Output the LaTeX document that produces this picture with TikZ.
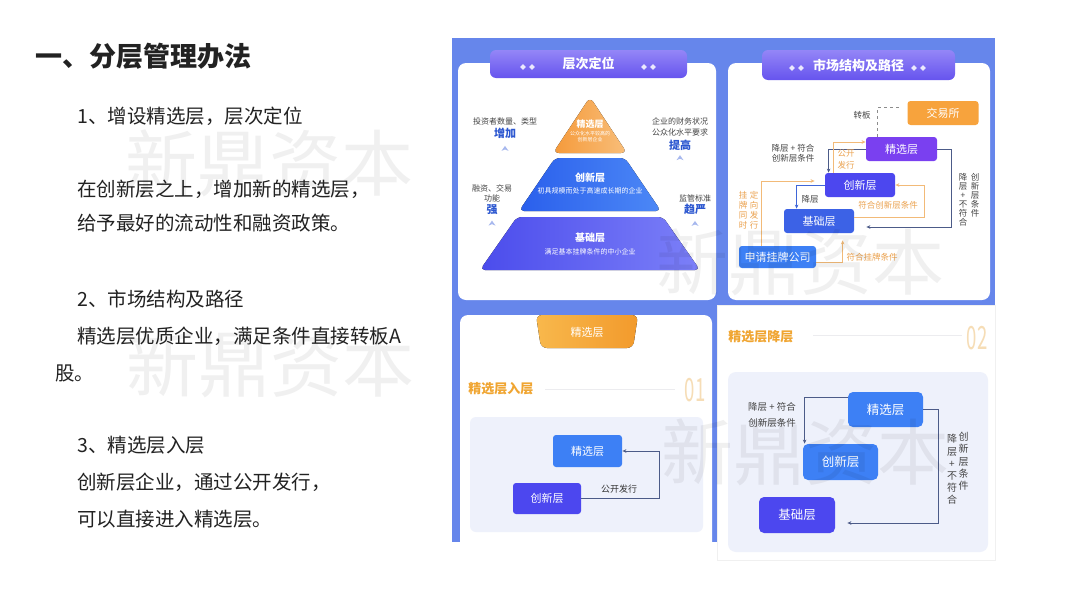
\documentclass[tikz,border=0pt]{standalone}
\usepackage{fontspec}
\usepackage{graphicx}
\setmainfont{Noto Sans CJK SC}
\usetikzlibrary{arrows.meta, positioning, calc}

\definecolor{bodyink}{HTML}{222222}
\definecolor{frameblue}{HTML}{6686EB}
\definecolor{tabtop}{HTML}{9486F7}
\definecolor{tabbot}{HTML}{6654EE}
\definecolor{boxblue}{HTML}{3D80F5}
\definecolor{boxindigo}{HTML}{4C47EF}
\definecolor{boxpurple}{HTML}{7A40F0}
\definecolor{boxbase}{HTML}{3C62E6}
\definecolor{exorange}{HTML}{F7A33D}
\definecolor{linkgray}{HTML}{4C5B88}
\definecolor{linkblue}{HTML}{3F66D8}
\definecolor{linkorange}{HTML}{F2BA78}
\definecolor{noteorange}{HTML}{EBA24F}
\definecolor{notegray}{HTML}{444444}
\definecolor{accentblue}{HTML}{2C57D0}
\definecolor{caretblue}{HTML}{A7B8EE}
\definecolor{headorange}{HTML}{F0A531}
\definecolor{numorange}{HTML}{F6DDB6}
\definecolor{panelfog}{HTML}{EEF1FB}
\definecolor{ruleline}{HTML}{ECECEF}
\definecolor{tabinA}{HTML}{F8B84C}
\definecolor{tabinB}{HTML}{F29A2C}
\definecolor{tierorA}{HTML}{F59A3A}
\definecolor{tierorB}{HTML}{F8BE7A}
\definecolor{tierblA}{HTML}{2A5FEC}
\definecolor{tierblB}{HTML}{4C88F6}
\definecolor{tierinA}{HTML}{4B4CEC}
\definecolor{tierinB}{HTML}{7C80F8}

\newcommand{\pxsize}[2]{\fontsize{#1}{#2}\selectfont}

\begin{document}
\begin{tikzpicture}[
    x=1pt, y=-1pt,
    >={Stealth[length=4pt, width=3.6pt]},
    line width=0.8pt,
    body/.style={anchor=west, inner sep=0pt, text=bodyink, font=\pxsize{19.5}{19.5}},
    tierbox/.style={rounded corners=3pt, text=white, inner sep=0pt, font=\pxsize{11}{11}},
    bigbox/.style={tierbox, rounded corners=5pt, font=\pxsize{12.5}{12.5}},
    note/.style={inner sep=0pt, text=notegray, align=center, font=\pxsize{8.5}{10}},
    orangenote/.style={note, text=noteorange},
    accent/.style={inner sep=0pt, text=accentblue, font=\bfseries\pxsize{11}{11}},
    tiername/.style={inner sep=0pt, text=white, font=\bfseries\pxsize{10}{10}},
    tierdesc/.style={inner sep=0pt, text=white, align=center, font=\pxsize{7}{8}},
    tabtitle/.style={inner sep=0pt, text=white, rounded corners=6pt, top color=tabtop, bottom color=tabbot, font=\bfseries\pxsize{13}{13}},
    sectionhead/.style={anchor=west, inner sep=0pt, text=headorange, font=\bfseries\pxsize{13}{13}},
    bignum/.style={inner sep=0pt, text=numorange, font=\pxsize{32}{32}},
    graylink/.style={->, draw=linkgray},
    bluelink/.style={->, draw=linkblue},
    orangelink/.style={->, draw=linkorange},
    watermark/.style={inner sep=0pt, text=black, text opacity=0.06, font=\pxsize{72}{72}},
    gem/.pic={\fill[white, fill opacity=0.85] (0,-2.8) -- (2.8,0) -- (0,2.8) -- (-2.8,0) -- cycle;},
    caret/.pic={\fill[caretblue] (-3.5,2.5) -- (0,-2.5) -- (3.5,2.5) -- (0,1) -- cycle;}
  ]
  \fill[white] (0,0) rectangle (1080,608);
  \useasboundingbox (0,0) rectangle (1080,608);

  % --- texto de la izquierda ---
  \node[anchor=west, inner sep=0pt, text=bodyink, font=\bfseries\pxsize{27}{27}] (title) at (35,56) {一、分层管理办法};
  \node[body] (h1)  at (77,116) {1、增设精选层，层次定位};
  \node[body] (p1a) at (77,189) {在创新层之上，增加新的精选层，};
  \node[body] (p1b) at (77,223) {给予最好的流动性和融资政策。};
  \node[body] (h2)  at (77,299) {2、市场结构及路径};
  \node[body] (p2a) at (77,336) {精选层优质企业，满足条件直接转板A};
  \node[body] (p2b) at (55,373) {股。};
  \node[body] (h3)  at (77,445) {3、精选层入层};
  \node[body] (p3a) at (77,482) {创新层企业，通过公开发行，};
  \node[body] (p3b) at (77,519) {可以直接进入精选层。};

  % --- marcos de los paneles ---
  \fill[frameblue] (452,38) rectangle (722,542);
  \fill[frameblue] (722,38) rectangle (995,305);
  \fill[white, rounded corners=8pt] (458,63) rectangle (716,300);
  \fill[white, rounded corners=8pt] (728,63) rectangle (990,300);
  \fill[white, rounded corners=8pt] (460,315) rectangle (712,556);
  \fill[white] (445,542) rectangle (716,560);
  \draw[draw=black!6, fill=white, line width=0.6pt] (717,305) rectangle (995,560);

  % --- panel 1: piramide ---
  \node[tabtitle, minimum width=197pt, minimum height=28pt] (tabL) at (588.5,64) {层次定位};
  \foreach \gx in {523,532,644,653} \pic at (\gx,67) {gem};
  \fill[left color=tierorA, right color=tierorB, rounded corners=6pt] (590,97) -- (627,153) -- (553,153) -- cycle;
  \fill[left color=tierblA, right color=tierblB, rounded corners=5pt] (555,158) -- (625,158) -- (661,211) -- (519,211) -- cycle;
  \fill[left color=tierinA, right color=tierinB, rounded corners=5pt] (517,217) -- (663,217) -- (700,270) -- (480,270) -- cycle;
  \node[tiername, font=\bfseries\pxsize{9}{9}] (topname) at (590,124) {精选层};
  \node[tierdesc, font=\pxsize{5}{6}, below=2pt of topname] (topdesc) {公众化水平较高的\\创新层企业};
  \node[tiername] (midname) at (590,178) {创新层};
  \node[tierdesc, below=4pt of midname] (middesc) {初具规模而处于高速成长期的企业};
  \node[tiername] (basename) at (590,238) {基础层};
  \node[tierdesc, below=5pt of basename] (basedesc) {满足基本挂牌条件的中小企业};

  \node[note, font=\pxsize{8}{10}] (invest) at (505,121) {投资者数量、类型};
  \node[accent, below=3pt of invest] (more) {增加};
  \pic at ($(more.south)+(0,9)$) {caret};
  \node[note, font=\pxsize{8}{10}] (finance) at (680,121) {企业的财务状况};
  \node[note, font=\pxsize{8}{10}, below=3pt of finance] (public) {公众化水平要求};
  \node[accent, below=3pt of public] (raise) {提高};
  \pic at ($(raise.south)+(0,7)$) {caret};
  \node[note, font=\pxsize{8}{10}] (trade) at (492,188) {融资、交易};
  \node[note, font=\pxsize{8}{10}, below=2pt of trade] (func) {功能};
  \node[accent, below=2pt of func] (strong) {强};
  \pic at ($(strong.south)+(0,8)$) {caret};
  \node[note, font=\pxsize{8}{10}] (supervise) at (695,198) {监管标准};
  \node[accent, below=2pt of supervise] (strict) {趋严};
  \pic at ($(strict.south)+(0,8)$) {caret};

  % --- panel 2: estructura del mercado ---
  \node[tabtitle, minimum width=193pt, minimum height=30pt] (tabR) at (858.5,65) {市场结构及路径};
  \foreach \gx in {792,801,914,923} \pic at (\gx,68) {gem};
  \node[tierbox, fill=exorange, minimum width=71pt, minimum height=24pt] (exch) at (943,113) {交易所};
  \node[tierbox, fill=boxpurple, minimum width=71pt, minimum height=24pt] (selM) at (901.5,149) {精选层};
  \node[tierbox, fill=boxindigo, minimum width=70pt, minimum height=24pt] (innM) at (860,185) {创新层};
  \node[tierbox, fill=boxbase, minimum width=70pt, minimum height=24pt] (baseM) at (819,221) {基础层};
  \node[tierbox, fill=boxblue, minimum width=77pt, minimum height=22pt] (apply) at (777.5,257) {申请挂牌公司};

  \draw[dashed, draw=black!45, line width=0.7pt] ($(selM.north west)+(12,0)$) |- ($(exch.west)+(-8,-6)$);
  \draw[graylink] (selM.west) -| ($(innM.north west)+(4,0)$);
  \draw[orangelink] ($(innM.north west)+(9,0)$) |- ($(selM.west)+(0,-7)$);
  \draw[bluelink] (innM.west) -| ($(baseM.north west)+(13,0)$);
  \draw[orangelink] ($(baseM.east)+(0,-4)$) -| ($(innM.east)+(29,0)$) -- (innM.east);
  \draw[graylink] (selM.east) -| ($(baseM.east)+(97,6)$) -- ($(baseM.east)+(12,6)$);
  \draw[orangelink] ($(apply.north west)+(23,0)$) |- ($(innM.west)+(-10,-4)$);
  \draw[orangelink] ($(apply.east)+(0,5)$) -| ($(baseM.south west)+(59,7)$);

  \node[note] (turn) at (862,115) {转板};
  \node[note] (downM) at (793,153) {降层 + 符合\\创新层条件};
  \node[orangenote, align=left, font=\pxsize{8.5}{12}] (pubM) at (846,159) {公开\\发行};
  \node[note] (downB) at (810,199) {降层};
  \node[orangenote] (meetM) at (888,205) {符合创新层条件};
  \node[note, font=\pxsize{8.5}{9}, anchor=north] (failL) at (963,173) {降\\层\\+\\不\\符\\合};
  \node[note, font=\pxsize{8.5}{9}, anchor=north] (failR) at (975,173) {创\\新\\层\\条\\件};
  \node[orangenote, font=\pxsize{8.5}{10}, anchor=north] (listL) at (743,191) {挂\\牌\\同\\时};
  \node[orangenote, font=\pxsize{8.5}{10}, anchor=north] (listR) at (754,191) {定\\向\\发\\行};
  \node[orangenote] (listok) at (872,257) {符合挂牌条件};

  % --- panel 3: entrada al nivel selecto ---
  \fill[left color=tabinA, right color=tabinB, rounded corners=6pt] (536,315) -- (638,315) -- (633,348) -- (541,348) -- cycle;
  \node[inner sep=0pt, text=white, font=\pxsize{11}{11}] (tabIn) at (587,332) {精选层};
  \node[sectionhead] (headIn) at (468,389) {精选层入层};
  \draw[ruleline, line width=1pt] (545,389) -- (675,389);
  \node[bignum] (numIn) at (695,390) {\scalebox{0.58}[1]{01}};
  \fill[panelfog, rounded corners=6pt] (470,417) rectangle (703,532);
  \node[tierbox, fill=boxblue, minimum width=69pt, minimum height=32pt] (selIn) at (587.5,451) {精选层};
  \node[tierbox, fill=boxindigo, minimum width=68pt, minimum height=31pt] (innIn) at (547,498.5) {创新层};
  \draw[graylink] (innIn.east) -| ($(selIn.east)+(37,0)$) -- (selIn.east);
  \node[note, text=black!80, font=\pxsize{9}{9}] (pubIn) at (619,489) {公开发行};

  % --- panel 4: descenso del nivel selecto ---
  \node[sectionhead] (headDn) at (728,337) {精选层降层};
  \draw[ruleline, line width=1pt] (813,335) -- (962,335);
  \node[bignum] (numDn) at (977,338) {\scalebox{0.58}[1]{02}};
  \fill[panelfog, rounded corners=8pt] (728,372) rectangle (988,552);
  \node[bigbox, fill=boxblue, minimum width=75pt, minimum height=35pt] (selDn) at (885.5,409.5) {精选层};
  \node[bigbox, fill=boxblue, minimum width=75pt, minimum height=36pt] (innDn) at (840.5,462) {创新层};
  \node[bigbox, fill=boxindigo, minimum width=76pt, minimum height=36pt] (baseDn) at (797,515) {基础层};
  \draw[graylink] ($(selDn.west)+(0,-12)$) -| ($(innDn.north west)+(2,0)$);
  \draw[graylink] (selDn.east) -| ($(baseDn.east)+(103,8)$) -- ($(baseDn.east)+(12,8)$);
  \node[note, font=\pxsize{9.5}{16}] (downDn) at (772,415) {降层 + 符合\\创新层条件};
  \node[note, font=\pxsize{10}{12.2}, anchor=north] (failDnL) at (952,434) {降\\层\\+\\不\\符\\合};
  \node[note, font=\pxsize{10}{12.2}, anchor=north] (failDnR) at (963.5,432) {创\\新\\层\\条\\件};

  % --- marca de agua ---
  \foreach \wx/\wy in {269/163, 270/364, 800/262, 805/452}
    \node[watermark] (wm-\wy) at (\wx,\wy) {新鼎资本};
\end{tikzpicture}
\end{document}
